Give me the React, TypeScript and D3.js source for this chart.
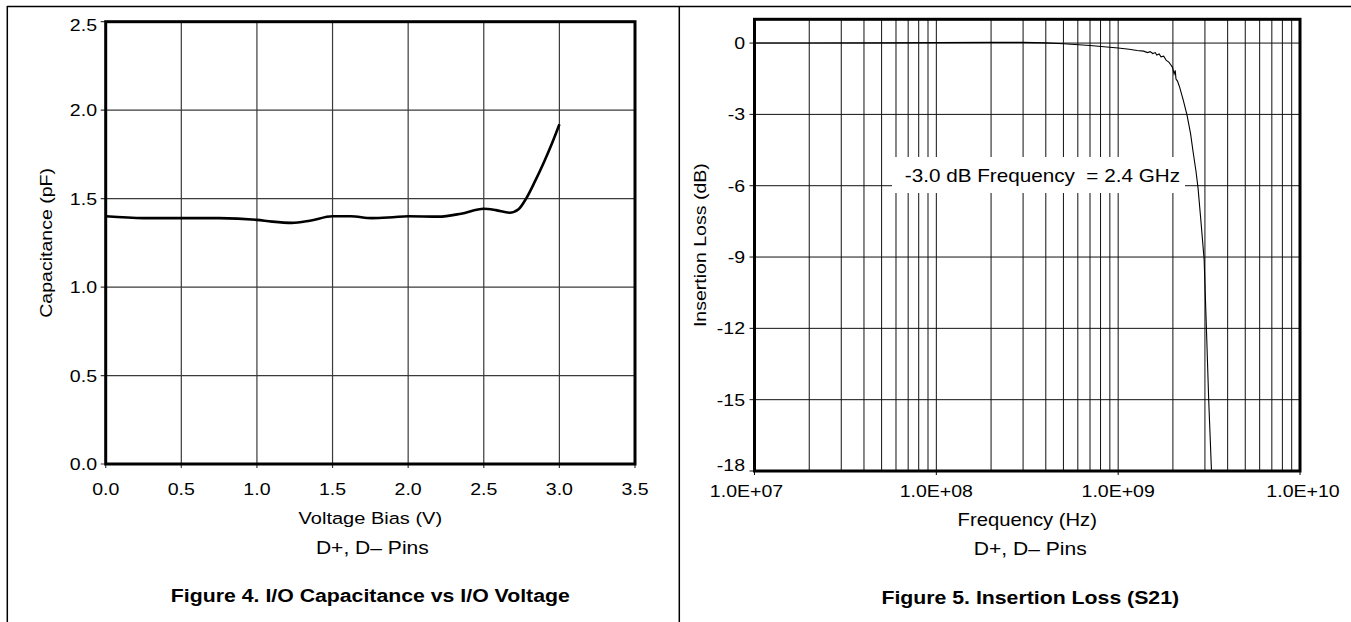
import React from "react";
import * as d3 from "d3";

// Figure 4 - capacitance vs bias
const voltage = [0, 0.25, 0.5, 0.75, 1.0, 1.1, 1.23, 1.35, 1.5, 1.62, 1.76, 1.9, 2.0, 2.2, 2.35, 2.5, 2.58, 2.67, 2.73, 2.78, 2.84, 2.9, 2.95, 3.0];
const capacitance = [1.4, 1.39, 1.39, 1.39, 1.38, 1.37, 1.363, 1.375, 1.4, 1.4, 1.39, 1.395, 1.4, 1.398, 1.415, 1.443, 1.435, 1.42, 1.44, 1.5, 1.6, 1.71, 1.81, 1.92];
const capTicks = ["0.0", "0.5", "1.0", "1.5", "2.0", "2.5"];
const voltTicks = ["0.0", "0.5", "1.0", "1.5", "2.0", "2.5", "3.0", "3.5"];

// Figure 5 - insertion loss
const freqHz = [1e7, 2e7, 5e7, 1e8, 2e8, 3e8, 4e8, 5e8, 7e8, 1e9, 1.15e9, 1.27e9, 1.38e9, 1.45e9, 1.5e9, 1.55e9, 1.6e9, 1.63e9, 1.68e9, 1.72e9, 1.78e9, 1.84e9, 1.9e9, 1.95e9, 1.99e9, 2.03e9, 2.06e9, 2.08e9, 2.12e9, 2.18e9, 2.28e9, 2.39e9, 2.5e9, 2.58e9, 2.68e9, 2.75e9, 2.86e9, 2.97e9, 3.06e9, 3.15e9, 3.26e9];
const lossDb = [0, 0, 0.01, 0.02, 0.03, 0.03, 0.01, -0.03, -0.1, -0.21, -0.26, -0.31, -0.34, -0.4, -0.36, -0.44, -0.4, -0.5, -0.46, -0.58, -0.55, -0.73, -0.8, -0.92, -1.02, -1.3, -1.15, -1.51, -1.6, -1.86, -2.4, -3.02, -3.8, -4.55, -5.4, -6.1, -7.6, -9.1, -12.1, -15.1, -18];
const lossTicks = ["0", "-3", "-6", "-9", "-12", "-15", "-18"];
const freqTicks = ["1.0E+07", "1.0E+08", "1.0E+09", "1.0E+10"];

const FONT = "'Liberation Sans', Arial, Helvetica, sans-serif";
const SX = 1.15; // the source text is a bit wide

function Txt({ x, y, size = 17, anchor = "middle", bold = false, rot = false, children }: any) {
  return (
    <text
      transform={`translate(${x},${y})${rot ? " rotate(-90)" : ""} scale(${SX},1)`}
      textAnchor={anchor}
      fontSize={size}
      fontWeight={bold ? "bold" : "normal"}
      fontFamily={FONT}
      fill="#000"
      style={{ whiteSpace: "pre" }}
    >
      {children}
    </text>
  );
}

function CapChart() {
  const x = d3.scaleLinear().domain([0, 3.5]).range([105.7, 635]);
  const y = d3.scaleLinear().domain([0, 2.5]).range([464, 21.7]);
  const pts = voltage.map((v, i) => [v, capacitance[i]] as [number, number]);
  const line = d3
    .line<[number, number]>()
    .x(d => x(d[0]))
    .y(d => y(d[1]))
    .curve(d3.curveMonotoneX);
  const cx = (x(0) + x(3.5)) / 2;
  return (
    <g>
      {voltTicks.map(t => (
        <line key={"v" + t} x1={x(+t)} x2={x(+t)} y1={y(2.5)} y2={y(0) + 4} stroke="#3a3a3a" strokeWidth={1.2} />
      ))}
      {capTicks.map(t => (
        <line key={"h" + t} x1={x(0) - 5} x2={x(3.5)} y1={y(+t)} y2={y(+t)} stroke="#3a3a3a" strokeWidth={1.2} />
      ))}
      <path d={line(pts) || ""} fill="none" stroke="#000" strokeWidth={2.6} />
      <rect x={x(0)} y={y(2.5)} width={x(3.5) - x(0)} height={y(0) - y(2.5)} fill="none" stroke="#000" strokeWidth={3} />
      {capTicks.map(t => (
        <Txt key={"yl" + t} x={97} y={y(+t) + (t === "2.5" ? 9 : 6)} anchor="end">{t}</Txt>
      ))}
      {voltTicks.map(t => (
        <Txt key={"xl" + t} x={x(+t)} y={495}>{t}</Txt>
      ))}
      <Txt x={52} y={(y(0) + y(2.5)) / 2} rot>Capacitance (pF)</Txt>
      <Txt x={cx} y={524} size={17.4}>Voltage Bias (V)</Txt>
      <Txt x={cx + 2} y={554} size={18.3}>D+, D– Pins</Txt>
      <Txt x={cx} y={602} size={18.5} bold>Figure 4. I/O Capacitance vs I/O Voltage</Txt>
    </g>
  );
}

function LossChart() {
  const x = d3.scaleLog().domain([1e7, 1e10]).range([754.5, 1300]);
  const y = d3.scaleLinear().domain([-18, 1]).range([471, 19.3]);
  const pts = freqHz.map((f, i) => [f, lossDb[i]] as [number, number]);
  const line = d3
    .line<[number, number]>()
    .x(d => x(d[0]))
    .y(d => y(d[1]));
  const minor = x.ticks().filter(f => f > 1e7 && f < 1e10);
  const cx = (x(1e7) + x(1e10)) / 2;
  const shift = (i: number) => (i === 0 ? -8 : i === freqTicks.length - 1 ? 3 : 0);
  return (
    <g>
      {minor.map(f => (
        <line key={"v" + f} x1={x(f)} x2={x(f)} y1={y(1)} y2={y(-18)} stroke="#111" strokeWidth={1} />
      ))}
      {freqTicks.map(t => (
        <line key={"t" + t} x1={x(+t)} x2={x(+t)} y1={y(-18)} y2={y(-18) + 4} stroke="#000" strokeWidth={1} />
      ))}
      {lossTicks.map(t => (
        <line key={"h" + t} x1={x(1e7) - 5} x2={x(1e10)} y1={y(+t)} y2={y(+t)} stroke="#111" strokeWidth={1} />
      ))}
      <rect x={892} y={157} width={293} height={36} fill="#fff" />
      <Txt x={1180} y={182} size={18} anchor="end">-3.0 dB Frequency  = 2.4 GHz</Txt>
      <path d={line(pts) || ""} fill="none" stroke="#000" strokeWidth={1.1} />
      <rect x={x(1e7)} y={y(1)} width={x(1e10) - x(1e7)} height={y(-18) - y(1)} fill="none" stroke="#000" strokeWidth={3} />
      {lossTicks.map(t => (
        <Txt key={"yl" + t} x={745} y={t === "-18" ? y(+t) : y(+t) + 6} anchor="end">{t}</Txt>
      ))}
      {freqTicks.map((t, i) => (
        <Txt key={"xl" + t} x={x(+t) + shift(i)} y={497}>{t}</Txt>
      ))}
      <Txt x={706} y={(y(-18) + y(1)) / 2} rot>Insertion Loss (dB)</Txt>
      <Txt x={cx} y={526} size={17.6}>Frequency (Hz)</Txt>
      <Txt x={cx + 3} y={555} size={18.3}>D+, D– Pins</Txt>
      <Txt x={cx + 3} y={604} size={18.5} bold>Figure 5. Insertion Loss (S21)</Txt>
    </g>
  );
}

export default function App() {
  return (
    <svg width={1351} height={622} style={{ position: "absolute", left: 0, top: 0, background: "#fff" }}>
      <line x1={7} x2={1351} y1={6.5} y2={6.5} stroke="#000" strokeWidth={1.5} />
      <line x1={7.3} x2={7.3} y1={6} y2={622} stroke="#000" strokeWidth={1.5} />
      <line x1={679.3} x2={679.3} y1={6} y2={622} stroke="#000" strokeWidth={1.5} />
      <CapChart />
      <LossChart />
    </svg>
  );
}
